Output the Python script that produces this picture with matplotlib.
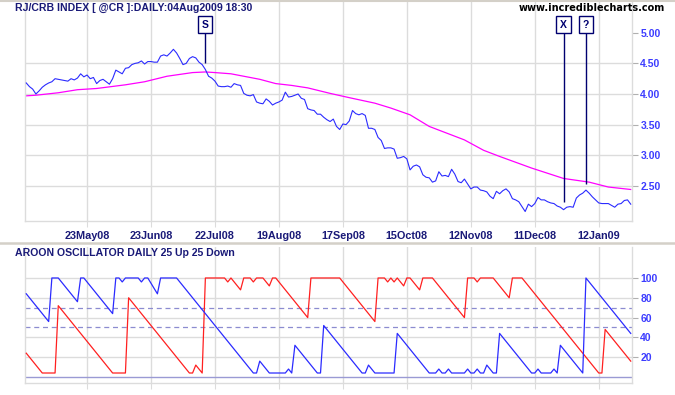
import numpy as np
import matplotlib
matplotlib.use("Agg")
import matplotlib.pyplot as plt
from matplotlib.lines import Line2D

# daily closes, RJ/CRB index (one value per trading day)
price = [
    4.18, 4.12, 4.08, 4.00, 4.05, 4.11, 4.15, 4.18, 4.20, 4.25,
    4.24, 4.23, 4.22, 4.21, 4.25, 4.23, 4.26, 4.33, 4.28, 4.31,
    4.25, 4.27, 4.17, 4.22, 4.24, 4.20, 4.16, 4.25, 4.39, 4.36,
    4.33, 4.42, 4.43, 4.48, 4.50, 4.51, 4.54, 4.49, 4.53, 4.53,
    4.52, 4.52, 4.62, 4.64, 4.62, 4.67, 4.73, 4.67, 4.58, 4.48,
    4.50, 4.58, 4.61, 4.59, 4.52, 4.48, 4.40, 4.29, 4.26, 4.21,
    4.13, 4.12, 4.12, 4.13, 4.11, 4.17, 4.15, 4.14, 4.01, 3.98,
    3.97, 3.99, 3.87, 3.85, 3.84, 3.92, 3.88, 3.82, 3.85, 3.87,
    3.90, 4.03, 3.95, 3.96, 3.98, 4.00, 3.93, 3.91, 3.76, 3.74,
    3.73, 3.67, 3.67, 3.62, 3.58, 3.55, 3.59, 3.47, 3.42, 3.51,
    3.50, 3.56, 3.73, 3.68, 3.66, 3.68, 3.65, 3.44, 3.44, 3.42,
    3.29, 3.24, 3.11, 3.12, 3.12, 3.10, 2.95, 2.96, 2.98, 2.94,
    2.76, 2.82, 2.84, 2.81, 2.68, 2.64, 2.63, 2.56, 2.58, 2.73,
    2.66, 2.67, 2.65, 2.77, 2.69, 2.57, 2.55, 2.61, 2.53, 2.45,
    2.48, 2.48, 2.43, 2.42, 2.40, 2.33, 2.29, 2.41, 2.37, 2.42,
    2.45, 2.40, 2.29, 2.27, 2.24, 2.16, 2.08, 2.20, 2.16, 2.21,
    2.31, 2.27, 2.27, 2.24, 2.22, 2.21, 2.17, 2.15, 2.11, 2.15,
    2.16, 2.15, 2.30, 2.35, 2.38, 2.43, 2.38, 2.32, 2.27, 2.22,
    2.21, 2.21, 2.21, 2.18, 2.15, 2.20, 2.21, 2.26, 2.27, 2.20,
]

# moving average, read at its turning points
ma_day = [0, 3, 10, 16, 22, 28, 31, 37, 44, 52, 56, 59, 64, 73, 78, 83, 88,
          95, 101, 109, 114, 120, 126, 137, 143, 148, 158, 168, 176, 182, 189]
ma_val = [3.97, 3.98, 4.02, 4.07, 4.09, 4.13, 4.15, 4.20, 4.29, 4.35, 4.36,
          4.35, 4.33, 4.24, 4.17, 4.14, 4.10, 4.01, 3.94, 3.85, 3.77, 3.66,
          3.47, 3.25, 3.08, 2.98, 2.79, 2.62, 2.56, 2.48, 2.44]

# aroon up (blue) and aroon down (red), vertices
up_day = [0, 7, 8, 10, 16, 17, 18, 27, 28, 29, 30, 31, 35, 36, 37, 38, 41, 42,
          47, 71, 72, 73, 76, 81, 82, 83, 84, 91, 92, 93, 105, 106, 107, 109,
          115, 116, 126, 128, 129, 130, 131, 132, 133, 137, 138, 139, 140,
          141, 142, 143, 144, 146, 147, 148, 158, 159, 160, 161, 164, 165,
          166, 167, 174, 175, 189]
up_val = [84, 56, 100, 100, 76, 100, 100, 64, 100, 100, 96, 100, 100, 96, 100,
          100, 84, 100, 100, 4, 4, 16, 4, 4, 8, 4, 32, 4, 4, 52, 4, 4, 12, 4,
          4, 44, 4, 4, 8, 4, 4, 8, 4, 4, 8, 4, 4, 8, 4, 4, 12, 4, 4, 44, 4, 4,
          8, 4, 4, 8, 4, 32, 4, 100, 44]

down_day = [0, 5, 9, 10, 27, 31, 32, 51, 52, 53, 55, 56, 62, 63, 64, 67, 68,
            70, 71, 72, 74, 76, 77, 78, 88, 89, 98, 109, 110, 112, 113, 114,
            115, 116, 118, 119, 120, 123, 124, 127, 137, 138, 140, 141, 142,
            146, 151, 152, 155, 179, 180, 181, 189]
down_val = [24, 4, 4, 72, 4, 4, 80, 4, 4, 12, 4, 100, 100, 96, 100, 88, 100,
            100, 96, 100, 100, 92, 100, 100, 60, 100, 100, 56, 100, 100, 96,
            100, 96, 100, 92, 100, 100, 88, 100, 100, 60, 100, 100, 96, 100,
            100, 80, 100, 100, 4, 4, 48, 16]

tick_day = [19, 39, 59, 79, 99, 119, 139, 159, 179]
tick_lbl = ["23May08", "23Jun08", "22Jul08", "19Aug08", "17Sep08",
            "15Oct08", "12Nov08", "11Dec08", "12Jan09"]

signal_lbl = ["S", "X", "?"]
signal_day = [56, 168, 175]
signal_end = [4.51, 2.24, 2.53]

W, H = 675, 395
NAVY = "#1a1a78"
TICKBLUE = "#3c3cff"
GRID = "#dcdcdc"
FONT = "Liberation Sans"

fig = plt.figure(figsize=(W / 100, H / 100), dpi=100)


def px_axes(l, t, r, b):
    return fig.add_axes([l / W, 1 - b / H, (r - l) / W, (b - t) / H])


def style(ax):
    for s in ["left", "bottom", "right"]:
        ax.spines[s].set_color(GRID)
        ax.spines[s].set_linewidth(1)
    ax.spines["top"].set_visible(False)
    ax.yaxis.tick_right()
    ax.tick_params(axis="y", length=4, width=0.8, color="#b0b0b0", pad=2,
                   labelsize=7.5, labelcolor=TICKBLUE)
    ax.tick_params(axis="x", length=4, width=0.8, color=GRID, pad=3,
                   labelsize=7.8, labelcolor=NAVY)
    for lab in ax.get_yticklabels() + ax.get_xticklabels():
        lab.set_fontweight("bold")
        lab.set_fontfamily(FONT)
    ax.set_xlim(-0.4, 189.4)
    for d in tick_day:
        ax.axvline(d, color=GRID, lw=1, zorder=0)


# ---- price panel
ax1 = px_axes(25, 2, 632, 221)
ax1.set_ylim(1.925, 5.503)
ax1.set_yticks([2.5, 3.0, 3.5, 4.0, 4.5, 5.0])
ax1.set_yticklabels(["2.50", "3.00", "3.50", "4.00", "4.50", "5.00"])
ax1.set_xticks(tick_day)
ax1.set_xticklabels(tick_lbl)
style(ax1)
for v in [2.5, 3.0, 3.5, 4.0, 4.5]:
    ax1.axhline(v, color=GRID, lw=1, zorder=0)

days = np.arange(len(price))
ax1.plot(ma_day, ma_val, color="#ff00ff", lw=0.9, zorder=2)
ax1.plot(days, price, color="#2b2bff", lw=0.8, zorder=3)

for lbl, d, end in zip(signal_lbl, signal_day, signal_end):
    ax1.vlines(d, end, 5.0, color="#000070", lw=1, zorder=4)
    ax1.text(d, 5.13, lbl, ha="center", va="center", fontsize=7.5,
             fontweight="bold", color="#000070", family=FONT, zorder=5,
             bbox=dict(boxstyle="square,pad=0.35", fc="white", ec="#000070", lw=1))

# ---- aroon panel
ax2 = px_axes(25, 247, 632, 383)
ax2.set_ylim(-6.1, 131.3)
ax2.set_yticks([20, 40, 60, 80, 100])
ax2.set_xticks(tick_day)
ax2.set_xticklabels([])
style(ax2)
for v in [20, 40, 60, 80, 100]:
    ax2.axhline(v, color=GRID, lw=1, zorder=0)
ax2.axhline(70, color="#8c8cd0", lw=0.9, ls=(0, (4, 3)), zorder=1)
ax2.axhline(50, color="#8c8cd0", lw=0.9, ls=(0, (4, 3)), zorder=1)
ax2.axhline(0, color="#9a9ad4", lw=1, zorder=1)

ax2.plot(down_day, down_val, color="#ff2020", lw=0.9, zorder=3)
ax2.plot(up_day, up_val, color="#2b2bff", lw=0.9, zorder=3)

# ---- titles and frame
fig.text(15 / W, 1 - 8 / H, "RJ/CRB INDEX [ @CR ]:DAILY:04Aug2009 18:30",
         fontsize=7.6, fontweight="bold", color=NAVY, family=FONT, va="center")
fig.text(665 / W, 1 - 8 / H, "www.incrediblecharts.com", fontsize=7,
         fontweight="bold", color="black", family="DejaVu Sans",
         va="center", ha="right")
fig.text(15 / W, 1 - 253 / H, "AROON OSCILLATOR DAILY 25 Up 25 Down",
         fontsize=7.6, fontweight="bold", color=NAVY, family=FONT, va="center")

fig.add_artist(Line2D([0, 1], [1 - 0.5 / H, 1 - 0.5 / H], color="#d4d0c8", lw=1.5))
fig.add_artist(Line2D([0, 1], [1 - 243.5 / H, 1 - 243.5 / H], color="#d4d0c8", lw=1.8))

fig.savefig("out.png", dpi=100)
